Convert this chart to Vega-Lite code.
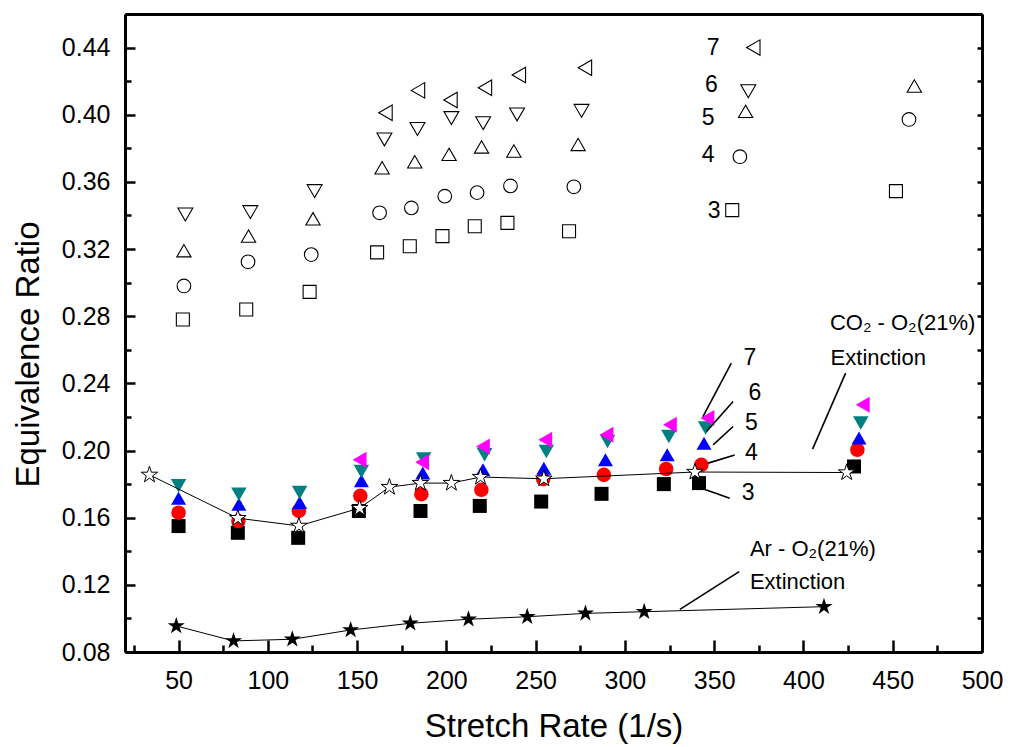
{
  "$schema": "https://vega.github.io/schema/vega-lite/v6.json",
  "width": 857,
  "height": 638,
  "autosize": {"type": "none"},
  "padding": {"left": 125, "top": 14, "right": 28, "bottom": 95},
  "background": "white",
  "config": {
    "view": {"stroke": null},
    "font": "Liberation Sans",
    "axis": {
      "grid": false,
      "labelFont": "Liberation Sans",
      "titleFont": "Liberation Sans",
      "labelColor": "black",
      "titleColor": "black",
      "domainColor": "black",
      "tickColor": "black",
      "labelFontSize": 25,
      "titleFontSize": 33,
      "titleFontWeight": "normal",
      "domainWidth": 3,
      "tickWidth": 2.5,
      "labelOverlap": false,
      "labelFlush": false,
      "labelBound": false
    }
  },
  "datasets": {
    "filled": [
      {"n": 3, "rate": 50, "phi": 0.155},
      {"n": 3, "rate": 83.2, "phi": 0.151},
      {"n": 3, "rate": 117, "phi": 0.148},
      {"n": 3, "rate": 151, "phi": 0.164},
      {"n": 3, "rate": 185.5, "phi": 0.164},
      {"n": 3, "rate": 218.7, "phi": 0.167},
      {"n": 3, "rate": 253.1, "phi": 0.1696},
      {"n": 3, "rate": 286.9, "phi": 0.1742},
      {"n": 3, "rate": 321.8, "phi": 0.18},
      {"n": 3, "rate": 341.5, "phi": 0.1806},
      {"n": 3, "rate": 428.3, "phi": 0.1905},
      {"n": 4, "rate": 50, "phi": 0.163},
      {"n": 4, "rate": 83.5, "phi": 0.158},
      {"n": 4, "rate": 117.4, "phi": 0.164},
      {"n": 4, "rate": 151.8, "phi": 0.173},
      {"n": 4, "rate": 186, "phi": 0.174},
      {"n": 4, "rate": 219.6, "phi": 0.1766},
      {"n": 4, "rate": 254.2, "phi": 0.183},
      {"n": 4, "rate": 288.2, "phi": 0.1855},
      {"n": 4, "rate": 323.1, "phi": 0.189},
      {"n": 4, "rate": 342.8, "phi": 0.1915},
      {"n": 4, "rate": 430.2, "phi": 0.2004},
      {"n": 5, "rate": 50, "phi": 0.1716},
      {"n": 5, "rate": 83.8, "phi": 0.168},
      {"n": 5, "rate": 117.8, "phi": 0.169},
      {"n": 5, "rate": 152.4, "phi": 0.182},
      {"n": 5, "rate": 186.8, "phi": 0.1866},
      {"n": 5, "rate": 220.5, "phi": 0.1885},
      {"n": 5, "rate": 254.6, "phi": 0.1895},
      {"n": 5, "rate": 289.1, "phi": 0.1945},
      {"n": 5, "rate": 323.7, "phi": 0.1975},
      {"n": 5, "rate": 344.3, "phi": 0.2044},
      {"n": 5, "rate": 431.1, "phi": 0.2074},
      {"n": 6, "rate": 50, "phi": 0.179},
      {"n": 6, "rate": 83.8, "phi": 0.174},
      {"n": 6, "rate": 117.8, "phi": 0.175},
      {"n": 6, "rate": 152.4, "phi": 0.1875},
      {"n": 6, "rate": 187.3, "phi": 0.195},
      {"n": 6, "rate": 221.4, "phi": 0.1975},
      {"n": 6, "rate": 256, "phi": 0.1994},
      {"n": 6, "rate": 290.3, "phi": 0.2054},
      {"n": 6, "rate": 324.6, "phi": 0.2084},
      {"n": 6, "rate": 345.2, "phi": 0.2134},
      {"n": 6, "rate": 432.1, "phi": 0.2164},
      {"n": 7, "rate": 151.4, "phi": 0.1945},
      {"n": 7, "rate": 186.4, "phi": 0.193},
      {"n": 7, "rate": 220.5, "phi": 0.2024},
      {"n": 7, "rate": 255.4, "phi": 0.2064},
      {"n": 7, "rate": 289.7, "phi": 0.2094},
      {"n": 7, "rate": 325.2, "phi": 0.2154},
      {"n": 7, "rate": 346.2, "phi": 0.2194},
      {"n": 7, "rate": 433.2, "phi": 0.2273}
    ],
    "hollow": [
      {"n": 3, "rate": 52.4, "phi": 0.278},
      {"n": 3, "rate": 87.9, "phi": 0.284},
      {"n": 3, "rate": 123.4, "phi": 0.2945},
      {"n": 3, "rate": 161.2, "phi": 0.318},
      {"n": 3, "rate": 179.5, "phi": 0.3217},
      {"n": 3, "rate": 197.8, "phi": 0.3277},
      {"n": 3, "rate": 215.9, "phi": 0.3336},
      {"n": 3, "rate": 234.2, "phi": 0.3356},
      {"n": 3, "rate": 268.7, "phi": 0.3306},
      {"n": 3, "rate": 360.1, "phi": 0.3432},
      {"n": 3, "rate": 451.8, "phi": 0.3545},
      {"n": 4, "rate": 53, "phi": 0.298},
      {"n": 4, "rate": 88.9, "phi": 0.3124},
      {"n": 4, "rate": 124.3, "phi": 0.3167},
      {"n": 4, "rate": 162.6, "phi": 0.3416},
      {"n": 4, "rate": 180.4, "phi": 0.3445},
      {"n": 4, "rate": 199.1, "phi": 0.3515},
      {"n": 4, "rate": 217.2, "phi": 0.3536},
      {"n": 4, "rate": 235.9, "phi": 0.3576},
      {"n": 4, "rate": 271.4, "phi": 0.3571},
      {"n": 4, "rate": 364.4, "phi": 0.375},
      {"n": 4, "rate": 459.1, "phi": 0.3972},
      {"n": 5, "rate": 53, "phi": 0.319},
      {"n": 5, "rate": 89.2, "phi": 0.3277},
      {"n": 5, "rate": 125.3, "phi": 0.338},
      {"n": 5, "rate": 164, "phi": 0.3684},
      {"n": 5, "rate": 182.3, "phi": 0.372},
      {"n": 5, "rate": 201.5, "phi": 0.3764},
      {"n": 5, "rate": 219.7, "phi": 0.3808},
      {"n": 5, "rate": 237.8, "phi": 0.3784},
      {"n": 5, "rate": 273.8, "phi": 0.3823},
      {"n": 5, "rate": 367.6, "phi": 0.402},
      {"n": 5, "rate": 462.1, "phi": 0.4171},
      {"n": 6, "rate": 53.8, "phi": 0.3406},
      {"n": 6, "rate": 90.2, "phi": 0.342},
      {"n": 6, "rate": 126.2, "phi": 0.3545},
      {"n": 6, "rate": 165.3, "phi": 0.3853},
      {"n": 6, "rate": 183.8, "phi": 0.3915},
      {"n": 6, "rate": 202.8, "phi": 0.398},
      {"n": 6, "rate": 220.6, "phi": 0.395},
      {"n": 6, "rate": 239.6, "phi": 0.4002},
      {"n": 6, "rate": 275.7, "phi": 0.4023},
      {"n": 6, "rate": 369.1, "phi": 0.414},
      {"n": 7, "rate": 165.9, "phi": 0.4012},
      {"n": 7, "rate": 184.1, "phi": 0.4145},
      {"n": 7, "rate": 202.3, "phi": 0.4088},
      {"n": 7, "rate": 221.6, "phi": 0.4161},
      {"n": 7, "rate": 240.6, "phi": 0.4237},
      {"n": 7, "rate": 277.6, "phi": 0.428},
      {"n": 7, "rate": 371.9, "phi": 0.44}
    ],
    "co2": [
      {"rate": 33.7, "phi": 0.1855},
      {"rate": 83.2, "phi": 0.1597},
      {"rate": 117.4, "phi": 0.1551},
      {"rate": 151.4, "phi": 0.1657},
      {"rate": 168.1, "phi": 0.1782},
      {"rate": 185.4, "phi": 0.1806},
      {"rate": 202.8, "phi": 0.1806},
      {"rate": 219.1, "phi": 0.1842},
      {"rate": 254.6, "phi": 0.1832},
      {"rate": 339.2, "phi": 0.1872},
      {"rate": 424.2, "phi": 0.1869}
    ],
    "ar": [
      {"rate": 48.7, "phi": 0.0955},
      {"rate": 80.8, "phi": 0.0866},
      {"rate": 113.7, "phi": 0.0876},
      {"rate": 146.4, "phi": 0.0931},
      {"rate": 179.8, "phi": 0.0971},
      {"rate": 212.4, "phi": 0.0995},
      {"rate": 245.3, "phi": 0.101},
      {"rate": 277.9, "phi": 0.103},
      {"rate": 310.8, "phi": 0.104},
      {"rate": 411.5, "phi": 0.107}
    ],
    "pointers": [
      {"rate": 423.6, "phi": 0.2461, "rate2": 405.1, "phi2": 0.2008},
      {"rate": 359.6, "phi": 0.2521, "rate2": 343.7, "phi2": 0.2202},
      {"rate": 360.6, "phi": 0.2292, "rate2": 345.7, "phi2": 0.2113},
      {"rate": 360.6, "phi": 0.2143, "rate2": 349.4, "phi2": 0.2034},
      {"rate": 361.5, "phi": 0.1974, "rate2": 346.6, "phi2": 0.1925},
      {"rate": 358.7, "phi": 0.1716, "rate2": 342.9, "phi2": 0.1776},
      {"rate": 364.0, "phi": 0.1279, "rate2": 330.8, "phi2": 0.1054}
    ],
    "numlabels": [
      {"rate": 370.0, "phi": 0.255, "label": "7"},
      {"rate": 372.8, "phi": 0.2342, "label": "6"},
      {"rate": 370.9, "phi": 0.2163, "label": "5"},
      {"rate": 370.9, "phi": 0.1984, "label": "4"},
      {"rate": 369.0, "phi": 0.1746, "label": "3"},
      {"rate": 349.4, "phi": 0.4398, "label": "7"},
      {"rate": 348.5, "phi": 0.4179, "label": "6"},
      {"rate": 346.6, "phi": 0.3981, "label": "5"},
      {"rate": 346.6, "phi": 0.3762, "label": "4"},
      {"rate": 350.0, "phi": 0.3424, "label": "3"}
    ],
    "notes": [
      {"rate": 414.8, "phi": 0.2761, "label": "CO₂ - O₂(21%)"},
      {"rate": 415.2, "phi": 0.2552, "label": "Extinction"},
      {"rate": 370.0, "phi": 0.1414, "label": "Ar - O₂(21%)"},
      {"rate": 370.0, "phi": 0.1219, "label": "Extinction"}
    ]
  },
  "encoding": {
    "x": {"field": "rate", "type": "quantitative", "scale": {"domain": [20, 500], "nice": false, "zero": false}, "axis": null},
    "y": {"field": "phi", "type": "quantitative", "scale": {"domain": [0.08, 0.46], "nice": false, "zero": false}, "axis": null}
  },
  "layer": [
    {
      "data": {"name": "filled"},
      "mark": {"type": "point", "filled": true, "opacity": 1, "strokeWidth": 0},
      "encoding": {
        "x": {
          "field": "rate", "type": "quantitative",
          "scale": {"domain": [20, 500], "nice": false, "zero": false},
          "axis": {
            "orient": "bottom",
            "title": "Stretch Rate (1/s)",
            "values": [25, 50, 75, 100, 125, 150, 175, 200, 225, 250, 275, 300, 325, 350, 375, 400, 425, 450, 475, 500],
            "format": "d",
            "labelExpr": "datum.value % 50 === 0 ? datum.label : ''",
            "tickSize": {"condition": {"test": "datum.value % 50 === 0", "value": -12}, "value": -7},
            "labelPadding": 28,
            "titlePadding": 12
          }
        },
        "y": {
          "field": "phi", "type": "quantitative",
          "scale": {"domain": [0.08, 0.46], "nice": false, "zero": false},
          "axis": {
            "orient": "left",
            "title": "Equivalence Ratio",
            "titleY": 340,
            "values": [0.08, 0.10, 0.12, 0.14, 0.16, 0.18, 0.20, 0.22, 0.24, 0.26, 0.28, 0.30, 0.32, 0.34, 0.36, 0.38, 0.40, 0.42, 0.44, 0.46],
            "format": ".2f",
            "labelExpr": "round(datum.value * 100) % 4 === 0 ? datum.label : ''",
            "tickSize": {"condition": {"test": "round(datum.value * 100) % 4 === 0", "value": -10}, "value": -6},
            "labelPadding": 25,
            "titlePadding": 16
          }
        },
        "shape": {"field": "n", "type": "nominal", "scale": {"domain": [3, 4, 5, 6, 7], "range": ["square", "circle", "triangle-up", "triangle-down", "triangle-left"]}, "legend": null},
        "color": {"field": "n", "type": "nominal", "scale": {"domain": [3, 4, 5, 6, 7], "range": ["#000000", "#ff0000", "#0000ff", "#008080", "#ff00ff"]}, "legend": null},
        "size": {"field": "n", "type": "ordinal", "scale": {"domain": [3, 4, 5, 6, 7], "range": [196, 256, 361, 361, 361]}, "legend": null}
      }
    },
    {
      "data": {"name": "hollow"},
      "mark": {"type": "point", "filled": false, "color": "black", "strokeWidth": 1.1, "opacity": 1},
      "encoding": {
        "x": {
          "field": "rate", "type": "quantitative",
          "scale": {"domain": [20, 500], "nice": false, "zero": false},
          "axis": {"orient": "top", "title": null, "labels": false, "ticks": false}
        },
        "y": {
          "field": "phi", "type": "quantitative",
          "scale": {"domain": [0.08, 0.46], "nice": false, "zero": false},
          "axis": {
            "orient": "right", "title": null, "labels": false,
            "values": [0.08, 0.10, 0.12, 0.14, 0.16, 0.18, 0.20, 0.22, 0.24, 0.26, 0.28, 0.30, 0.32, 0.34, 0.36, 0.38, 0.40, 0.42, 0.44, 0.46],
            "tickSize": -5
          }
        },
        "shape": {"field": "n", "type": "nominal", "scale": {"domain": [3, 4, 5, 6, 7], "range": ["square", "circle", "triangle-up", "triangle-down", "triangle-left"]}, "legend": null},
        "size": {"field": "n", "type": "ordinal", "scale": {"domain": [3, 4, 5, 6, 7], "range": [169, 240, 300, 300, 300]}, "legend": null}
      }
    },
    {
      "data": {"name": "co2"},
      "mark": {"type": "line", "color": "black", "strokeWidth": 1}
    },
    {
      "data": {"name": "co2"},
      "mark": {"type": "point", "shape": "M0,-1L0.2245,-0.309L0.9511,-0.309L0.3633,0.118L0.5878,0.809L0,0.382L-0.5878,0.809L-0.3633,0.118L-0.9511,-0.309L-0.2245,-0.309Z", "size": 300, "filled": true, "fill": "white", "stroke": "black", "strokeWidth": 1, "opacity": 1}
    },
    {
      "data": {"name": "ar"},
      "mark": {"type": "line", "color": "black", "strokeWidth": 1}
    },
    {
      "data": {"name": "ar"},
      "mark": {"type": "point", "shape": "M0,-1L0.2245,-0.309L0.9511,-0.309L0.3633,0.118L0.5878,0.809L0,0.382L-0.5878,0.809L-0.3633,0.118L-0.9511,-0.309L-0.2245,-0.309Z", "size": 324, "filled": true, "fill": "black", "strokeWidth": 0, "opacity": 1}
    },
    {
      "data": {"name": "pointers"},
      "mark": {"type": "rule", "color": "black", "strokeWidth": 1.6},
      "encoding": {
        "x2": {"field": "rate2"},
        "y2": {"field": "phi2"}
      }
    },
    {
      "data": {"name": "numlabels"},
      "mark": {"type": "text", "align": "center", "baseline": "middle", "fontSize": 23, "font": "Liberation Sans", "color": "black"},
      "encoding": {"text": {"field": "label"}}
    },
    {
      "data": {"name": "notes"},
      "mark": {"type": "text", "align": "left", "baseline": "middle", "fontSize": 22, "font": "Liberation Sans", "color": "black"},
      "encoding": {"text": {"field": "label"}}
    }
  ],
  "resolve": {
    "axis": {"x": "independent", "y": "independent"},
    "scale": {"size": "independent"}
  }
}
